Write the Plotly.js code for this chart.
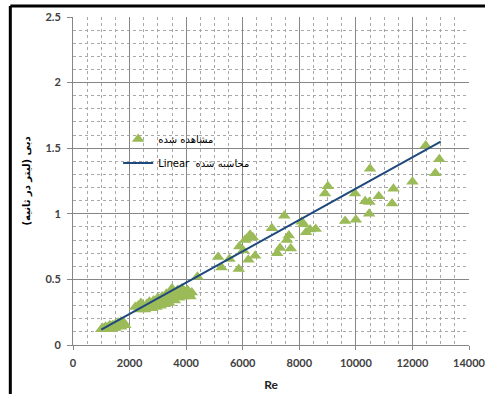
<!DOCTYPE html>
<html>
<head>
<meta charset="utf-8">
<script src="https://cdn.plot.ly/plotly-3.0.1.min.js"></script>
<style>html,body{margin:0;padding:0;background:#fff;overflow:hidden;}#chart{width:485px;height:394px;}</style>
</head>
<body>
<div id="chart"></div>
<script>
// Observed (مشاهده شده) points: Reynolds number and discharge
var observedRe = [
  1000,1050,1100,1150,1200,1250,1300,1350,1400,1450,1500,1550,1600,1650,1700,1750,1800,1850,1300,1500,1700,
  2200,2300,2350,2400,2450,2500,2550,2600,2650,2700,2750,2800,2850,2900,2950,3000,3050,3100,3100,3150,3200,3250,3300,3350,3400,3450,3500,3550,3600,3600,3650,3700,3750,3800,3850,3900,3950,4000,4050,4100,4150,4200,
  4400,5130,5250,5530,5860,5880,6020,6080,6140,6200,6260,6360,6440,
  7030,7220,7320,7470,7560,7630,7700,8090,8150,8240,8380,8580,
  8910,9010,9620,10000,9970,10330,10480,10470,10500,10810,11280,11330,12000,12470,12950,12810
];
var observedQ = [
  0.12,0.13,0.12,0.14,0.13,0.14,0.15,0.14,0.15,0.13,0.16,0.15,0.17,0.15,0.18,0.16,0.17,0.15,0.12,0.13,0.14,
  0.29,0.30,0.27,0.32,0.30,0.29,0.27,0.31,0.28,0.33,0.30,0.28,0.34,0.31,0.29,0.36,0.32,0.30,0.35,0.37,0.34,0.31,0.39,0.35,0.32,0.41,0.43,0.37,0.34,0.38,0.40,0.42,0.36,0.39,0.43,0.37,0.41,0.38,0.42,0.39,0.37,0.40,
  0.52,0.67,0.59,0.655,0.58,0.75,0.72,0.80,0.81,0.65,0.84,0.82,0.68,
  0.89,0.70,0.74,0.985,0.80,0.835,0.735,0.94,0.92,0.86,0.88,0.885,
  1.155,1.21,0.945,0.955,1.155,1.095,1.09,1.0,1.343,1.133,1.078,1.19,1.245,1.52,1.415,1.31
];
// Calculated (محاسبه شده) linear line
var linearRe = [1000, 13000];
var linearQ = [0.117, 1.55];

var xTickVals = [0,2000,4000,6000,8000,10000,12000,14000];
var xTickText = ['0','2000','4000','6000','8000','10000','12000','14000'];
var yTickVals = [0,0.5,1,1.5,2,2.5];
var yTickText = ['0','0.5','1','1.5','2','2.5'];

var observedName = 'مشاهده شده';
var linearName = 'Linear  محاسبه شده';
var yTitle = 'دبی (لیتر در ثانیه)\u200F';
var xTitle = 'Re';

var traces = [
  {x: observedRe, y: observedQ, type: 'scatter', mode: 'markers', name: observedName, legendgroup: 'a',
   marker: {symbol: 'triangle-up', size: 11, color: '#9BBB59'}},
  {x: linearRe, y: linearQ, type: 'scatter', mode: 'lines', name: linearName, legendgroup: 'b',
   line: {color: '#1F497D', width: 2}}
];

var tickFont = {family: 'Lato, "Liberation Sans", sans-serif', size: 11, color: '#404040', weight: 'bold'};

var layout = {
  width: 485, height: 394,
  margin: {l: 73, r: 16, t: 17, b: 48.5},
  paper_bgcolor: '#ffffff', plot_bgcolor: '#ffffff',
  showlegend: true,
  legend: {x: 0.114, y: 0.672, xanchor: 'left', yanchor: 'top', bgcolor: 'rgba(0,0,0,0)',
           traceorder: 'grouped', tracegroupgap: 5,
           font: {family: '"DejaVu Sans", sans-serif', size: 10, color: '#000'}},
  xaxis: {
    range: [0, 14000], tickvals: xTickVals, ticktext: xTickText, showgrid: true, gridcolor: '#868686', gridwidth: 1,
    zeroline: false, showline: true, linecolor: '#868686', ticks: 'outside', ticklen: 4, tickcolor: '#868686',
    ticklabelstandoff: 4, ticklabeloverflow: 'allow', tickfont: tickFont,
    minor: {dtick: 500, showgrid: true, gridcolor: '#A8A8A8', griddash: 'dot', gridwidth: 1},
    title: {text: xTitle, font: {family: 'Lato, "Liberation Sans", sans-serif', size: 12, color: '#222', weight: 'bold'}, standoff: 12}
  },
  yaxis: {
    range: [0, 2.5], tickvals: yTickVals, ticktext: yTickText, showgrid: true, gridcolor: '#868686', gridwidth: 1,
    zeroline: false, showline: true, linecolor: '#868686', ticks: 'outside', ticklen: 5, tickcolor: '#868686',
    ticklabelstandoff: 4, tickfont: tickFont,
    minor: {dtick: 0.1, showgrid: true, gridcolor: '#A8A8A8', griddash: 'dot', gridwidth: 1},
    title: {text: yTitle, font: {family: '"DejaVu Sans", sans-serif', size: 10, color: '#000', weight: 'bold'}, standoff: 12}
  },
  shapes: [
    {type: 'line', xref: 'paper', yref: 'paper', x0: -0.1583, x1: 1.1, y0: 1.0335, y1: 1.0335, line: {color: '#000', width: 3}},
    {type: 'line', xref: 'paper', yref: 'paper', x0: -0.1583, x1: -0.1583, y0: 1.0335, y1: -0.2, line: {color: '#000', width: 3}}
  ]
};

Plotly.newPlot('chart', traces, layout, {displayModeBar: false, staticPlot: true});
</script>
</body>
</html>
